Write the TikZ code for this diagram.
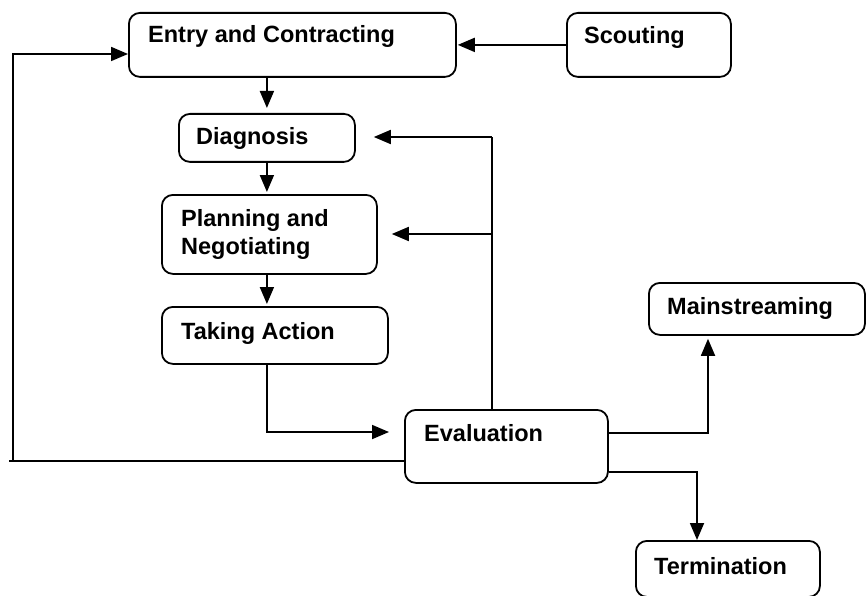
\documentclass[tikz,border=0pt]{standalone}
\usepackage{fontspec}
\setmainfont{Liberation Sans}
\usetikzlibrary{arrows.meta}
\begin{document}
\begin{tikzpicture}[x=1pt,y=-1pt,
  box/.style={draw, line width=1.8pt, rounded corners=11pt, inner sep=0, anchor=north west},
  lbl/.style={anchor=base west, inner sep=0, font=\fontsize{23.5}{28}\selectfont\bfseries},
  conn/.style={line width=1.8pt},
  arr/.style={line width=1.8pt, -{Triangle[length=17pt,width=14pt]}}]
\useasboundingbox (0,0) rectangle (866,596);
% boxes
\node[box, minimum width=327pt, minimum height=64pt] (entry) at (128,12) {};
\node[lbl] (entryt) at (148,43) {Entry and Contracting};
\node[box, minimum width=164pt, minimum height=64pt] (scout) at (566,12) {};
\node[lbl] (scoutt) at (584,44) {Scouting};
\node[box, minimum width=176pt, minimum height=48pt] (diag) at (178,113) {};
\node[lbl] (diagt) at (196,145) {Diagnosis};
\node[box, minimum width=215pt, minimum height=79pt] (plan) at (161,194) {};
\node[lbl] (plant1) at (181,226) {Planning and};
\node[lbl] (plant2) at (181,254) {Negotiating};
\node[box, minimum width=226pt, minimum height=57pt] (take) at (161,306) {};
\node[lbl] (taket) at (181,339) {Taking Action};
\node[box, minimum width=203pt, minimum height=73pt] (eval) at (404,409) {};
\node[lbl] (evalt) at (424,441) {Evaluation};
\node[box, minimum width=216pt, minimum height=52pt] (main) at (648,282) {};
\node[lbl] (maint) at (667,314) {Mainstreaming};
\node[box, minimum width=184pt, minimum height=56pt] (term) at (635,540) {};
\node[lbl] (termt) at (654,574) {Termination};
% bend points
\coordinate (c1) at (267,432);
\coordinate (fbtop) at (492,137);
\coordinate (fbbot) at (492,409);
\coordinate (fbmid) at (492,234);
\coordinate (m1) at (708,433);
\coordinate (t1) at (697,472);
\coordinate (l1) at (13,461);
\coordinate (l2) at (13,54);
\coordinate (lend) at (9,461);
% connectors
\draw[arr, shorten >=1pt] (scout.west) -- (entry.east);
\draw[arr, shorten >=5pt] (entry.south -| diag.north) -- (diag.north);
\draw[arr, shorten >=2pt] (diag.south) -- (plan.north -| diag.south);
\draw[arr, shorten >=2pt] (plan.south -| diag.south) -- (take.north -| diag.south);
\draw[arr, shorten >=15pt] (take.south -| c1) -- (c1) -- (eval.west |- c1);
\draw[conn] (fbbot) -- (fbtop);
\draw[arr, shorten >=18pt] (fbtop) -- (diag.east |- fbtop);
\draw[arr, shorten >=14pt] (fbmid) -- (plan.east |- fbmid);
\draw[arr, shorten >=3pt] (eval.east |- m1) -- (m1) -- (main.south -| m1);
\draw[arr] (eval.east |- t1) -- (t1) -- (term.north -| t1);
\draw[conn] (eval.west |- l1) -- (lend);
\draw[arr] (l1) -- (l2) -- (entry.west |- l2);
\end{tikzpicture}
\end{document}
